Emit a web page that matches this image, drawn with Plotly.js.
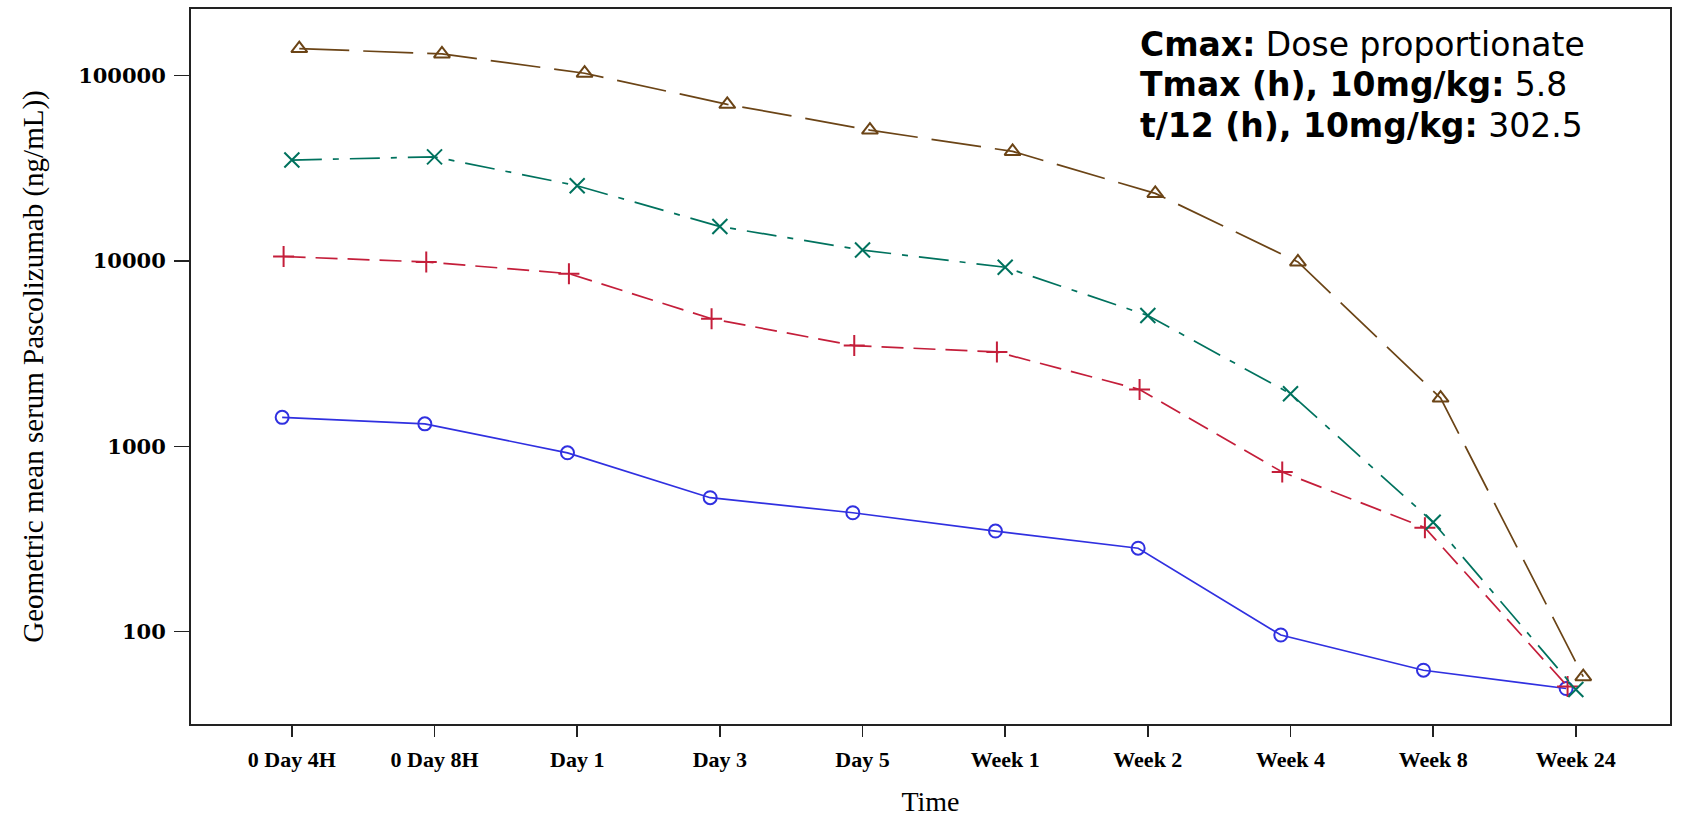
<!DOCTYPE html>
<html>
<head>
<meta charset="utf-8">
<script src="https://cdn.plot.ly/plotly-3.0.1.min.js"></script>
<style>html,body{margin:0;padding:0;background:#fff;}#chart{width:1682px;height:818px;}</style>
</head>
<body>
<div id="chart"></div>
<script>
const timepoints = ["0 Day 4H","0 Day 8H","Day 1","Day 3","Day 5","Week 1","Week 2","Week 4","Week 8","Week 24"];
const dose1 = [1432,1321,922,528,438,349,282,96,62,49.4];        // blue circles
const dose2 = [10550,9860,8530,4870,3490,3225,2025,726,364,50.7]; // red plus
const dose3 = [34950,36360,25400,15310,11430,9230,5070,1920,389,48.8]; // teal x
const dose4 = [139500,130500,102700,69800,50700,38900,23100,9860,1820,57.2]; // brown triangles
const yTicks = [100,1000,10000,100000];
const yTickText = ["100","1000","10000","100000"];

function pos(offset){ return timepoints.map((t,i)=>i+offset); }

const series = [
  {y:dose1, off:-0.068, color:'#3030E0', dash:'solid', sym:'circle-open', size:13},
  {y:dose2, off:-0.058, color:'#C41E3A', dash:'22px,10px', sym:'cross-thin-open', size:15},
  {y:dose3, off:0.0, color:'#00725E', dash:'30px,11px,6px,11px', sym:'x-thin-open', size:15},
  {y:dose4, off:0.052, color:'#6B4416', dash:'50px,14px', sym:'triangle-up-open', size:14}
];

const traces = series.map(s=>({
  type:'scatter', mode:'lines+markers',
  x: pos(s.off), y: s.y,
  line:{color:s.color, width:1.7, dash:s.dash},
  marker:{symbol:s.sym, size:s.size, color:s.color, line:{color:s.color, width:2}},
  showlegend:false, hoverinfo:'skip'
}));

const annFont = {family:'DejaVu Sans, Open Sans, sans-serif', size:33, color:'#000'};

const layout = {
  width:1682, height:818,
  margin:{l:191, r:12, t:9, b:94},
  paper_bgcolor:'#fff', plot_bgcolor:'#fff',
  showlegend:false,
  xaxis:{
    range:[-0.707, 9.66],
    tickmode:'array', tickvals: timepoints.map((t,i)=>i), ticktext: timepoints,
    showgrid:false, zeroline:false,
    showline:true, linecolor:'#222', linewidth:2, mirror:true,
    ticks:'outside', ticklen:11, tickwidth:1.5, tickcolor:'#222',
    ticklabelstandoff:4,
    tickfont:{family:'Liberation Serif, Times New Roman, serif', size:22, color:'#000', weight:'bold'},
    title:{text:'Time', font:{family:'Liberation Serif, Times New Roman, serif', size:28, color:'#000'}, standoff:20}
  },
  yaxis:{
    type:'log',
    range:[Math.log10(31.8), Math.log10(228000)],
    tickmode:'array', tickvals:yTicks, ticktext:yTickText,
    showgrid:false, zeroline:false,
    showline:true, linecolor:'#222', linewidth:2, mirror:true,
    ticks:'outside', ticklen:15, tickwidth:1.5, tickcolor:'#222',
    ticklabelstandoff:4,
    tickfont:{family:'DejaVu Serif, Liberation Serif, serif', size:21, color:'#000', weight:'bold'},
    title:{text:'Geometric mean serum Pascolizumab (ng/mL))', font:{family:'Liberation Serif, Times New Roman, serif', size:29, color:'#000'}, standoff:26}
  },
  annotations:[
    {xref:'paper', yref:'paper', x:0.64, y:0.951, xanchor:'left', yanchor:'middle', showarrow:false, align:'left',
     text:'<b>Cmax:</b> Dose proportionate', font:annFont},
    {xref:'paper', yref:'paper', x:0.64, y:0.894, xanchor:'left', yanchor:'middle', showarrow:false, align:'left',
     text:'<b>Tmax (h), 10mg/kg:</b> 5.8', font:annFont},
    {xref:'paper', yref:'paper', x:0.64, y:0.837, xanchor:'left', yanchor:'middle', showarrow:false, align:'left',
     text:'<b>t/12 (h), 10mg/kg:</b> 302.5', font:annFont}
  ]
};

Plotly.newPlot('chart', traces, layout, {displayModeBar:false, staticPlot:true});
</script>
</body>
</html>
